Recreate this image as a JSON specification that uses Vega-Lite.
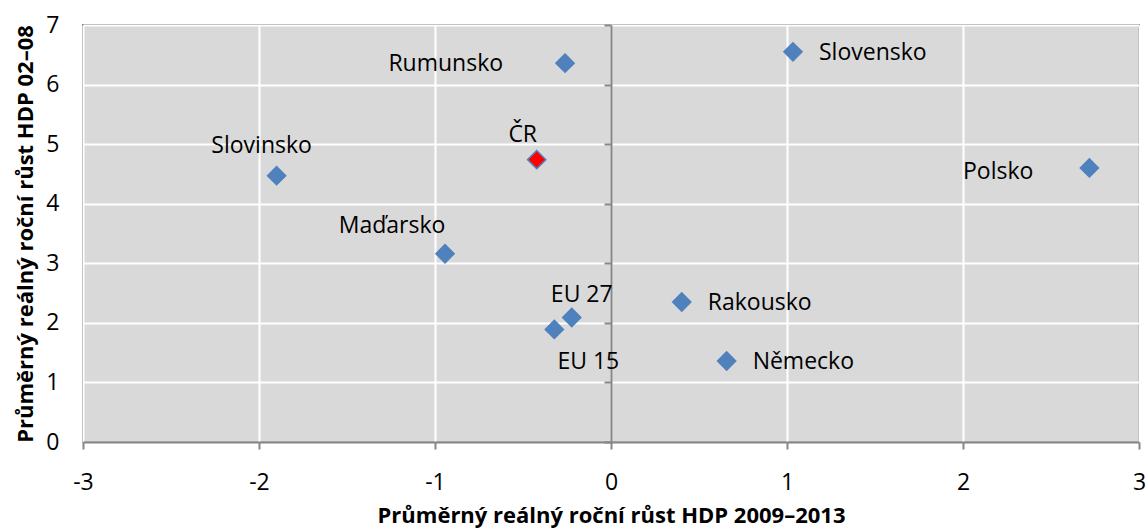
{
  "$schema": "https://vega.github.io/schema/vega-lite/v6.json",
  "width": 1056,
  "height": 417,
  "autosize": "none",
  "padding": {"left": 83, "top": 25, "right": 7, "bottom": 86},
  "background": "white",
  "config": {
    "view": {"fill": "#d9d9d9", "stroke": "#868686", "strokeWidth": 2},
    "font": "Open Sans"
  },
  "data": {
    "values": [
      {"name": "Slovensko", "x": 1.034, "y": 6.55},
      {"name": "Rumunsko", "x": -0.261, "y": 6.36},
      {"name": "ČR", "x": -0.422, "y": 4.74},
      {"name": "Slovinsko", "x": -1.9, "y": 4.47},
      {"name": "Polsko", "x": 2.718, "y": 4.6},
      {"name": "Maďarsko", "x": -0.943, "y": 3.16},
      {"name": "EU 27", "x": -0.223, "y": 2.09},
      {"name": "EU 15", "x": -0.322, "y": 1.89},
      {"name": "Rakousko", "x": 0.402, "y": 2.35},
      {"name": "Německo", "x": 0.657, "y": 1.36}
    ]
  },
  "resolve": {"axis": {"y": "independent"}},
  "layer": [
    {
      "mark": {"type": "point", "shape": "diamond", "filled": true, "size": 330, "opacity": 1, "stroke": "#4f81bd", "strokeWidth": 1.5},
      "encoding": {
        "x": {
          "field": "x", "type": "quantitative",
          "scale": {"domain": [-3, 3], "nice": false, "zero": false},
          "axis": {
            "title": "Průměrný reálný roční růst HDP 2009–2013",
            "titleFont": "Open Sans", "titleFontSize": 22, "titleFontWeight": "bold", "titleColor": "#000000", "titlePadding": 11,
            "values": [-3, -2, -1, 0, 1, 2, 3],
            "labelExpr": "'' + datum.value",
            "labelFontSize": 23, "labelColor": "#000000", "labelPadding": 22, "labelFlush": false,
            "domainColor": "#868686", "domainWidth": 2,
            "tickColor": "#868686", "tickWidth": 2, "tickSize": 7,
            "grid": true, "gridColor": "#ffffff", "gridWidth": 2
          }
        },
        "y": {
          "field": "y", "type": "quantitative",
          "scale": {"domain": [0, 7], "nice": false},
          "axis": {
            "orient": "left",
            "title": "Průměrný reálný roční růst HDP 02–08",
            "titleFont": "Open Sans", "titleFontSize": 22, "titleFontWeight": "bold", "titleColor": "#000000", "titlePadding": 8,
            "values": [0, 1, 2, 3, 4, 5, 6, 7],
            "labelFontSize": 23, "labelColor": "#000000", "labelPadding": 24, "labelFlush": false,
            "domain": false, "ticks": false,
            "grid": true, "gridColor": "#ffffff", "gridWidth": 2
          }
        },
        "fill": {"condition": {"test": "datum.name === 'ČR'", "value": "#ff0000"}, "value": "#4f81bd"}
      }
    },
    {
      "mark": {"type": "point", "opacity": 0},
      "encoding": {
        "x": {"field": "x", "type": "quantitative"},
        "y": {
          "field": "y", "type": "quantitative",
          "axis": {
            "orient": "left", "offset": -528, "title": null, "labels": false,
            "values": [0, 1, 2, 3, 4, 5, 6, 7],
            "domainColor": "#868686", "domainWidth": 2,
            "tickColor": "#868686", "tickWidth": 2, "tickSize": 7,
            "grid": false
          }
        }
      }
    },
    {
      "transform": [{"filter": "indexof(['Slovensko','Rakousko','Německo'], datum.name) >= 0"}],
      "mark": {"type": "text", "align": "left", "baseline": "middle", "dx": 26, "dy": 1, "fontSize": 23, "color": "#000000"},
      "encoding": {"x": {"field": "x", "type": "quantitative"}, "y": {"field": "y", "type": "quantitative", "axis": null}, "text": {"field": "name"}}
    },
    {
      "transform": [{"filter": "datum.name === 'Rumunsko'"}],
      "mark": {"type": "text", "align": "right", "baseline": "middle", "dx": -62, "dy": 1, "fontSize": 23, "color": "#000000"},
      "encoding": {"x": {"field": "x", "type": "quantitative"}, "y": {"field": "y", "type": "quantitative", "axis": null}, "text": {"field": "name"}}
    },
    {
      "transform": [{"filter": "datum.name === 'Polsko'"}],
      "mark": {"type": "text", "align": "right", "baseline": "middle", "dx": -56, "dy": 4, "fontSize": 23, "color": "#000000"},
      "encoding": {"x": {"field": "x", "type": "quantitative"}, "y": {"field": "y", "type": "quantitative", "axis": null}, "text": {"field": "name"}}
    },
    {
      "transform": [{"filter": "datum.name === 'ČR'"}],
      "mark": {"type": "text", "align": "center", "baseline": "middle", "dx": -14, "dy": -25, "fontSize": 23, "color": "#000000"},
      "encoding": {"x": {"field": "x", "type": "quantitative"}, "y": {"field": "y", "type": "quantitative", "axis": null}, "text": {"field": "name"}}
    },
    {
      "transform": [{"filter": "datum.name === 'Slovinsko'"}],
      "mark": {"type": "text", "align": "center", "baseline": "middle", "dx": -15, "dy": -30, "fontSize": 23, "color": "#000000"},
      "encoding": {"x": {"field": "x", "type": "quantitative"}, "y": {"field": "y", "type": "quantitative", "axis": null}, "text": {"field": "name"}}
    },
    {
      "transform": [{"filter": "datum.name === 'Maďarsko'"}],
      "mark": {"type": "text", "align": "center", "baseline": "middle", "dx": -53, "dy": -28, "fontSize": 23, "color": "#000000"},
      "encoding": {"x": {"field": "x", "type": "quantitative"}, "y": {"field": "y", "type": "quantitative", "axis": null}, "text": {"field": "name"}}
    },
    {
      "transform": [{"filter": "datum.name === 'EU 27'"}],
      "mark": {"type": "text", "align": "center", "baseline": "middle", "dx": 10, "dy": -22, "fontSize": 23, "color": "#000000"},
      "encoding": {"x": {"field": "x", "type": "quantitative"}, "y": {"field": "y", "type": "quantitative", "axis": null}, "text": {"field": "name"}}
    },
    {
      "transform": [{"filter": "datum.name === 'EU 15'"}],
      "mark": {"type": "text", "align": "center", "baseline": "middle", "dx": 34, "dy": 33, "fontSize": 23, "color": "#000000"},
      "encoding": {"x": {"field": "x", "type": "quantitative"}, "y": {"field": "y", "type": "quantitative", "axis": null}, "text": {"field": "name"}}
    }
  ]
}
